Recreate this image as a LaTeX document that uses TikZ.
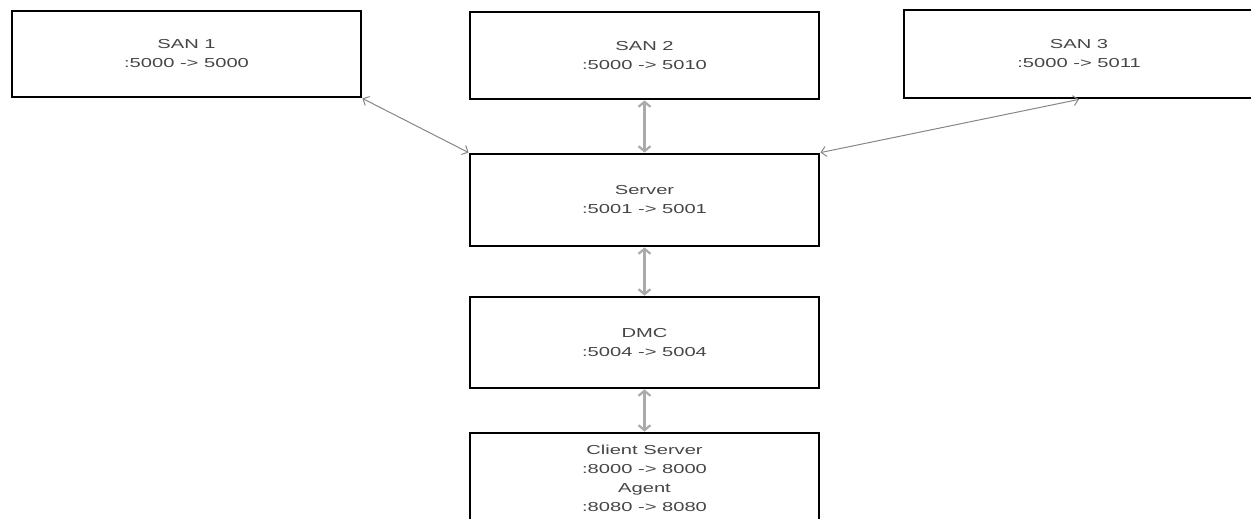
\documentclass[tikz,border=0pt]{standalone}
\usepackage{fontspec}
\setmainfont{Liberation Sans}
\usetikzlibrary{arrows.meta}
\definecolor{txtgray}{RGB}{70,70,70}
\definecolor{linkgray}{RGB}{135,135,135}
\definecolor{vgray}{RGB}{170,170,170}
\newcommand{\widetxt}[1]{\scalebox{1.55}[1]{#1}}
\begin{document}
\begin{tikzpicture}[x=1pt,y=-1pt,
  box/.style={draw=black,line width=2.8pt,fill=white,align=center,
    font=\fontsize{13pt}{19pt}\selectfont,text=txtgray,inner sep=0pt},
  diag/.style={draw=linkgray,line width=1pt,
    {Straight Barb[length=5pt,width=10pt]}-{Straight Barb[length=5pt,width=10pt]}},
  vert/.style={draw=vgray,line width=2.2pt,
    {Straight Barb[length=5pt,width=12pt]}-{Straight Barb[length=5pt,width=12pt]}}]
\clip (0,0) rectangle (1251,519);
\fill[white] (0,0) rectangle (1251,519);
\node[box,minimum width=349pt,minimum height=86pt] (san1) at (186.5,54) {\widetxt{SAN 1}\\\widetxt{:5000 -> 5000}};
\node[box,minimum width=349pt,minimum height=87pt] (san2) at (644.5,55.5) {\widetxt{SAN 2}\\\widetxt{:5000 -> 5010}};
\node[box,minimum width=350pt,minimum height=88pt] (san3) at (1079,54) {\widetxt{SAN 3}\\\widetxt{:5000 -> 5011}};
\node[box,minimum width=349pt,minimum height=92pt] (server) at (644.5,200) {\widetxt{Server}\\\widetxt{:5001 -> 5001}};
\node[box,minimum width=349pt,minimum height=91pt] (dmc) at (644.5,342.5) {\widetxt{DMC}\\\widetxt{:5004 -> 5004}};
\node[box,minimum width=349pt,minimum height=90pt] (client) at (644.5,478) {\widetxt{Client Server}\\\widetxt{:8000 -> 8000}\\\widetxt{Agent}\\\widetxt{:8080 -> 8080}};
\draw[diag] (san1.south east) -- (server.north west);
\draw[diag] (server.north east) -- (san3.south);
\draw[vert] (san2.south) -- (server.north);
\draw[vert] (server.south) -- (dmc.north);
\draw[vert] (dmc.south) -- (client.north);
\end{tikzpicture}
\end{document}
